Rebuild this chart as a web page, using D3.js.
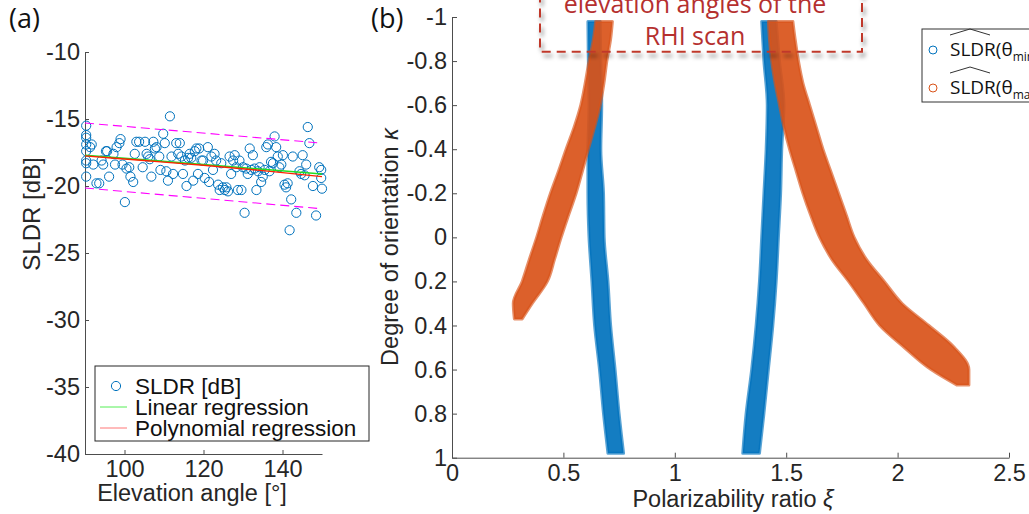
<!DOCTYPE html>
<html>
<head>
<meta charset="utf-8">
<script src="https://cdn.jsdelivr.net/npm/d3@7"></script>
<style>
  body { margin: 0; background: #fff; }
  svg { display: block; }
</style>
</head>
<body>
<svg id="chart" width="1029" height="514"></svg>
<script>
// ---- panel (a): SLDR vs elevation angle ----
const elevAngle = [90.3,90.3,90.3,90.3,90.3,90.3,90.3,90.3, 91.7,91.3,92.1, 92.9,93.6, 94.2,94.6, 95.3,95.6,96.1,
  97.2,97.6,98.0,98.7,99.0, 99.5,100.1,100.5,101.2,101.5,102.2, 102.6,103.0,103.7,104.6,105.2,
  105.6,106.0,106.4,106.8,107.3,107.7,108.1, 108.8,109.1,109.8,110.2,110.6, 111.0,111.5,111.9,112.3,113.1,113.6,
  114.0,114.4,114.8,115.3,115.7,116.1,116.5, 116.9,117.4,117.8,118.2,118.6,118.9, 119.5,119.9,120.3,121.1,121.4,
  122.0,122.4,122.8,123.2,123.7,124.1,124.5, 124.9,125.4,125.8,126.2,126.6,127.0, 127.5,127.9,128.3,128.7,129.1,129.6,
  130.0,130.4,130.8,131.2,131.7,132.1,132.5, 132.9,133.4,133.8,134.2,134.6,135.0, 135.5,135.9,136.3,136.7,137.1,137.6,
  138.0,138.4,138.8,139.2,139.7,140.1, 140.5,140.9,141.3,141.8,142.2,142.6, 143.5,144.3,144.7,145.1,145.6,146.0,
  146.4,146.8,147.7,148.5,149.3,149.8,149.8,150.0]
const sldrDb = [-15.5,-16.2,-16.4,-16.9,-17.4,-18.1,-18.3,-19.3, -16.9,-17.1,-18.4, -19.8,-19.8, -18.1,-18.4, -17.4,-17.4,-19.3,
  -17.6,-18.4,-17.1,-16.8,-16.5, -18.4,-21.2,-18.7,-18.6,-19.3,-19.7, -17.6,-16.7,-16.7,-18.6,-16.7,
  -17.6,-17.8,-18.0,-19.3,-16.7,-17.2,-17.1, -17.8,-18.8,-16.1,-16.8,-18.9, -19.6,-14.8,-17.8,-19.1,-16.8,-17.6,
  -16.8,-17.8,-19.1,-18.1,-20.0,-17.9,-17.6, -17.9,-19.6,-17.4,-17.2,-19.1,-17.2, -18.1,-18.1,-19.4,-17.1,-19.7,
  -17.8,-18.8,-17.6,-18.1,-19.9,-20.3,-18.3, -20.1,-20.3,-20.1,-20.4,-17.8,-19.1, -18.1,-17.7,-18.6,-20.3,-18.1,-20.3,
  -18.6,-22.0,-18.7,-19.1,-17.2,-18.8,-17.7, -18.7,-20.3,-18.9,-18.6,-19.7,-19.3, -18.8,-17.1,-16.9,-18.9,-18.2,-18.3,
  -16.3,-17.1,-17.8,-18.6,-18.4,-17.7, -19.9,-20.1,-19.8,-23.3,-21.0,-17.8, -22.0,-18.9,-19.1,-17.7,-19.2,-18.4,
  -15.6,-16.8,-20.0,-22.2,-18.6,-18.8,-19.4,-20.2]

const fitAngle   = [90, 105, 120, 135, 150]
const linearFit  = [-17.7, -18.05, -18.4, -18.75, -19.1]
const polyFit    = [-17.75, -18.1, -18.45, -18.85, -19.3]
const boundAngle = [90, 150]
const upperBound = [-15.3, -16.8]
const lowerBound = [-20.15, -21.7]

const xTicksA = [100, 120, 140]
const yTicksA = [-40, -35, -30, -25, -20, -15, -10]
const legendA = ["SLDR [dB]", "Linear regression", "Polynomial regression"]

// ---- panel (b): degree of orientation vs polarizability ratio ----
const kappaBlue   = [-0.98, -0.8, -0.6, -0.4, -0.2, 0, 0.2, 0.4, 0.6, 0.8, 0.98]
const blueLeftLo  = [0.610, 0.612, 0.615, 0.610, 0.610, 0.615, 0.628, 0.640, 0.662, 0.680, 0.700]
const blueLeftHi  = [0.665, 0.668, 0.672, 0.668, 0.680, 0.683, 0.700, 0.712, 0.732, 0.750, 0.770]
const blueRightLo = [1.390, 1.400, 1.415, 1.410, 1.400, 1.390, 1.380, 1.365, 1.345, 1.320, 1.305]
const blueRightHi = [1.455, 1.470, 1.490, 1.480, 1.475, 1.465, 1.455, 1.440, 1.420, 1.400, 1.380]

const kappaOrangeL = [-0.98, -0.9, -0.8, -0.7, -0.6, -0.5, -0.4, -0.3, -0.2, -0.1, 0, 0.1, 0.2, 0.3, 0.37]
const orangeLeftLo = [0.645, 0.635, 0.615, 0.598, 0.578, 0.548, 0.512, 0.478, 0.442, 0.410, 0.380, 0.347, 0.315, 0.275, 0.280]
const orangeLeftHi = [0.720, 0.712, 0.695, 0.682, 0.665, 0.640, 0.612, 0.585, 0.557, 0.523, 0.490, 0.460, 0.428, 0.360, 0.315]

const kappaOrangeR  = [-0.98, -0.9, -0.8, -0.7, -0.6, -0.5, -0.4, -0.3, -0.2, -0.1, 0, 0.1, 0.2, 0.3, 0.4, 0.5, 0.6, 0.67]
const orangeRightLo = [1.420, 1.425, 1.435, 1.450, 1.470, 1.490, 1.515, 1.545, 1.575, 1.610, 1.650, 1.705, 1.780, 1.850, 1.920, 2.030, 2.150, 2.265]
const orangeRightHi = [1.530, 1.540, 1.555, 1.575, 1.605, 1.635, 1.665, 1.700, 1.735, 1.770, 1.805, 1.860, 1.940, 2.020, 2.140, 2.255, 2.320, 2.320]

const xTicksB = [0, 0.5, 1, 1.5, 2, 2.5]
const yTicksB = [-1, -0.8, -0.6, -0.4, -0.2, 0, 0.2, 0.4, 0.6, 0.8, 1]
const legendB = [["θ", "min"], ["θ", "max"]]

const BLUE = "#0072BD", ORANGE = "#D95319"
const AXIS = "#4d4d4d", TEXT = "#262626"
const SANS = "'Liberation Sans', Arial, sans-serif"
const UI = "'Open Sans', 'Noto Sans', sans-serif"

const svg = d3.select("#chart")
svg.append("rect").attr("width", 1029).attr("height", 514).attr("fill", "#fff")

function styleAxis(g, size) {
  g.attr("font-family", SANS)
  g.select(".domain").attr("stroke", AXIS)
  g.selectAll(".tick line").attr("stroke", AXIS)
  g.selectAll(".tick text").attr("fill", TEXT).attr("font-size", size).attr("font-family", SANS)
}

// ===== panel (a) =====
const xA = d3.scaleLinear().domain([90, 150]).range([85, 322])
const yA = d3.scaleLinear().domain([-40, -10]).range([454, 52])

svg.append("g")
  .attr("transform", "translate(0,454)")
  .call(d3.axisBottom(xA).tickValues(xTicksA).tickSizeInner(-4).tickSizeOuter(0).tickPadding(6).tickFormat(d => String(d)))
  .call(g => styleAxis(g, 23.5))

svg.append("g")
  .attr("transform", "translate(85,0)")
  .call(d3.axisLeft(yA).tickValues(yTicksA).tickSizeInner(-4).tickSizeOuter(0).tickPadding(5).tickFormat(d => String(d)))
  .call(g => styleAxis(g, 23.5))

const ptsA = elevAngle.map((a, i) => ({ a, v: sldrDb[i] }))
svg.append("g").selectAll("circle")
  .data(ptsA)
  .enter().append("circle")
  .attr("cx", d => xA(d.a)).attr("cy", d => yA(d.v)).attr("r", 4.6)
  .attr("fill", "none").attr("stroke", BLUE).attr("stroke-width", 1)

const lineA = d3.line().x(d => xA(d[0])).y(d => yA(d[1]))
const bounds = [upperBound, lowerBound]
bounds.forEach(b => {
  svg.append("path")
    .attr("d", lineA(boundAngle.map((a, i) => [a, b[i]])))
    .attr("fill", "none").attr("stroke", "#ff00ff").attr("stroke-width", 1.1)
    .attr("stroke-dasharray", "9,5")
})
svg.append("path")
  .attr("d", lineA(fitAngle.map((a, i) => [a, linearFit[i]])))
  .attr("fill", "none").attr("stroke", "#22dd22").attr("stroke-width", 1.6)
svg.append("path")
  .attr("d", d3.line().curve(d3.curveMonotoneX).x(d => xA(d[0])).y(d => yA(d[1]))(fitAngle.map((a, i) => [a, polyFit[i]])))
  .attr("fill", "none").attr("stroke", "#ff2200").attr("stroke-width", 1.4)

// legend (a)
const legA = svg.append("g").attr("transform", "translate(95,366)")
legA.append("rect").attr("width", 274).attr("height", 75)
  .attr("fill", "#fff").attr("stroke", TEXT).attr("stroke-width", 1)
legendA.forEach((lab, i) => {
  const cy = 20 + i * 21
  if (i === 0) {
    legA.append("circle").attr("cx", 21).attr("cy", cy).attr("r", 4.6)
      .attr("fill", "none").attr("stroke", BLUE)
  } else {
    legA.append("line").attr("x1", 5).attr("x2", 32).attr("y1", cy).attr("y2", cy)
      .attr("stroke", i === 1 ? "#55ee55" : "#ff7777").attr("stroke-width", 1)
  }
  legA.append("text").attr("x", 40).attr("y", cy + 8)
    .attr("font-family", SANS).attr("font-size", 22.5).attr("fill", "#111").text(lab)
})

svg.append("text").attr("x", 192).attr("y", 501).attr("text-anchor", "middle")
  .attr("font-family", SANS).attr("font-size", 23.5).attr("fill", TEXT).text("Elevation angle [°]")
svg.append("text").attr("transform", "translate(40,214) rotate(-90)").attr("text-anchor", "middle")
  .attr("font-family", SANS).attr("font-size", 24).attr("fill", TEXT).text("SLDR [dB]")
svg.append("text").attr("x", 9).attr("y", 28)
  .attr("font-family", UI).attr("font-size", 27).attr("fill", "#111").text("(a)")

// ===== panel (b) =====
const xB = d3.scaleLinear().domain([0, 2.5]).range([452, 1009])
const yB = d3.scaleLinear().domain([-1, 1]).range([17, 457.7])

svg.append("g")
  .attr("transform", "translate(0,457.7)")
  .call(d3.axisBottom(xB).tickValues(xTicksB).tickSizeInner(-5).tickSizeOuter(0).tickPadding(7).tickFormat(d => String(d)))
  .call(g => styleAxis(g, 23.5))

svg.append("g")
  .attr("transform", "translate(452,0)")
  .call(d3.axisLeft(yB).tickValues(yTicksB).tickSizeInner(-5).tickSizeOuter(0).tickPadding(5).tickFormat(d => String(d)))
  .call(g => styleAxis(g, 23.5))

const band = d3.area().curve(d3.curveMonotoneY)
  .y(d => yB(d.k)).x0(d => xB(d.lo)).x1(d => xB(d.hi))

const bands = [
  { k: kappaBlue, lo: blueLeftLo, hi: blueLeftHi, color: BLUE },
  { k: kappaBlue, lo: blueRightLo, hi: blueRightHi, color: BLUE },
  { k: kappaOrangeL, lo: orangeLeftLo, hi: orangeLeftHi, color: ORANGE },
  { k: kappaOrangeR, lo: orangeRightLo, hi: orangeRightHi, color: ORANGE },
]
bands.forEach(b => {
  const rows = b.k.map((k, i) => ({ k, lo: b.lo[i], hi: b.hi[i] }))
  svg.append("path").attr("d", band(rows))
    .attr("fill", b.color).attr("fill-opacity", 0.92)
    .attr("stroke", b.color).attr("stroke-opacity", 0.65).attr("stroke-width", 3)
    .attr("stroke-linejoin", "round")
})

// annotation box
const defs = svg.append("defs")
const sh = defs.append("filter").attr("id", "shadow")
  .attr("x", "-10%").attr("y", "-30%").attr("width", "120%").attr("height", "170%")
sh.append("feDropShadow").attr("dx", 2).attr("dy", 4).attr("stdDeviation", 2.2)
  .attr("flood-color", "#000").attr("flood-opacity", 0.5)

const RED = "#b5302f"
svg.append("rect").attr("x", 540).attr("y", -20).attr("width", 322).attr("height", 71.7)
  .attr("fill", "none").attr("stroke", "#c0392b").attr("stroke-width", 2)
  .attr("stroke-dasharray", "9,6").attr("filter", "url(#shadow)")
svg.append("text").attr("x", 695).attr("y", 13).attr("text-anchor", "middle")
  .attr("font-family", UI).attr("font-size", 25).attr("fill", RED).text("elevation angles of the")
svg.append("text").attr("x", 695).attr("y", 45).attr("text-anchor", "middle")
  .attr("font-family", UI).attr("font-size", 25).attr("fill", RED).text("RHI scan")

// legend (b)
const legB = svg.append("g").attr("transform", "translate(922,29)")
legB.append("rect").attr("width", 140).attr("height", 73)
  .attr("fill", "#fff").attr("stroke", "#333").attr("stroke-width", 1)
legendB.forEach((lab, i) => {
  const base = 27 + i * 38
  legB.append("circle").attr("cx", 11).attr("cy", base - 6).attr("r", 4)
    .attr("fill", "none").attr("stroke", i === 0 ? BLUE : ORANGE)
  legB.append("path")
    .attr("d", `M28,${base - 21} L48,${base - 27} L68,${base - 21}`)
    .attr("fill", "none").attr("stroke", "#333").attr("stroke-width", 1)
  const t = legB.append("text").attr("x", 28).attr("y", base)
    .attr("font-family", UI).attr("font-size", 19).attr("fill", "#111")
  t.append("tspan").text("SLDR(" + lab[0])
  t.append("tspan").attr("font-size", 12).attr("dy", 5).text(lab[1])
  t.append("tspan").attr("dy", -5).text(")")
})

svg.append("text").attr("x", 733).attr("y", 507).attr("text-anchor", "middle")
  .attr("font-family", SANS).attr("font-size", 23.5).attr("fill", TEXT)
  .call(t => {
    t.append("tspan").text("Polarizability ratio ")
    t.append("tspan").attr("font-style", "italic").text("ξ")
  })
svg.append("text").attr("transform", "translate(398,247) rotate(-90)").attr("text-anchor", "middle")
  .attr("font-family", SANS).attr("font-size", 23.5).attr("fill", TEXT)
  .call(t => {
    t.append("tspan").text("Degree of orientation ")
    t.append("tspan").attr("font-style", "italic").text("κ")
  })
svg.append("text").attr("x", 371).attr("y", 28)
  .attr("font-family", UI).attr("font-size", 27).attr("fill", "#111").text("(b)")
</script>
</body>
</html>
